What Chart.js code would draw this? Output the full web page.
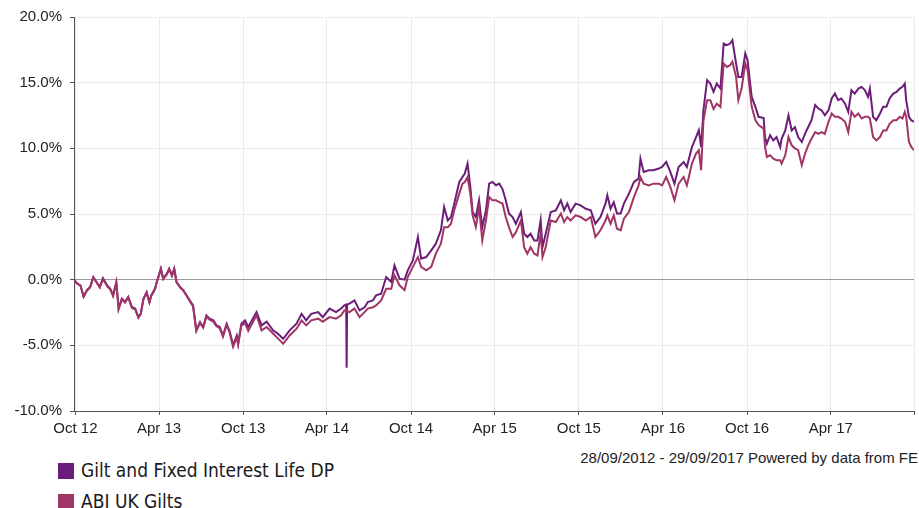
<!DOCTYPE html>
<html>
<head>
<meta charset="utf-8">
<title>Gilt and Fixed Interest Life DP vs ABI UK Gilts</title>
<script src="https://cdn.jsdelivr.net/npm/chart.js@4.4.1/dist/chart.umd.min.js"></script>
<style>
  html, body { margin: 0; padding: 0; background: #fff; }
  #wrap { position: relative; width: 919px; height: 508px; overflow: hidden;
          font-family: 'Liberation Sans', Arial, sans-serif; color: #222; }
  #chart { position: absolute; left: 0; top: 0; }
  .src { position: absolute; right: 1px; top: 449px; font-size: 15px; line-height: 18px; white-space: nowrap; }
  .sw { position: absolute; left: 58px; width: 16px; height: 16px; }
  .lt { position: absolute; left: 81px; font-family: 'DejaVu Sans Condensed', 'DejaVu Sans', sans-serif;
        font-stretch: condensed; font-size: 19px; line-height: 22px; white-space: nowrap; color: #1a1a1a; }
</style>
</head>
<body>
<div id="wrap">
  <canvas id="chart" width="919" height="440"></canvas>
  <div class="src">28/09/2012 - 29/09/2017 Powered by data from FE</div>
  <div class="sw" id="sw0" style="top:463px"></div>
  <div class="lt" id="lt0" style="top:459px"></div>
  <div class="sw" id="sw1" style="top:494px"></div>
  <div class="lt" id="lt1" style="top:490px"></div>
</div>
<script>
// Cumulative performance (%) from 28/09/2012 to 29/09/2017
const startDate = '2012-09-28';
const endDate = '2017-09-29';

const seriesNames = ['Gilt and Fixed Interest Life DP', 'ABI UK Gilts'];
const seriesColors = ['#6c1d7a', '#a03566'];

const dates = [
  '2012-09-28','2012-10-05','2012-10-12','2012-10-19','2012-10-26','2012-11-02','2012-11-09','2012-11-16','2012-11-23','2012-11-30',
  '2012-12-09','2012-12-16','2012-12-22','2012-12-29','2013-01-03','2013-01-10','2013-01-17','2013-01-24','2013-02-01','2013-02-08',
  '2013-02-15','2013-02-20','2013-02-26','2013-03-05','2013-03-11','2013-03-15','2013-03-23','2013-03-28','2013-04-05','2013-04-10',
  '2013-04-18','2013-04-23','2013-04-29','2013-05-04','2013-05-09','2013-05-17','2013-05-24','2013-05-31','2013-06-07','2013-06-14',
  '2013-06-21','2013-06-29','2013-07-06','2013-07-13','2013-07-20','2013-07-28','2013-08-04','2013-08-11','2013-08-18','2013-08-26',
  '2013-09-02','2013-09-09','2013-09-17','2013-09-20','2013-09-27','2013-10-05','2013-10-12','2013-10-30','2013-11-10','2013-11-21',
  '2013-12-05','2013-12-15','2013-12-27','2014-01-10','2014-01-25','2014-02-05','2014-02-15','2014-02-26','2014-03-13','2014-03-23',
  '2014-04-07','2014-04-21','2014-05-02','2014-05-09','2014-05-13','2014-05-14','2014-05-15','2014-05-20','2014-05-31','2014-06-11',
  '2014-06-22','2014-06-29','2014-07-10','2014-07-17','2014-07-28','2014-08-08','2014-08-19','2014-08-26','2014-09-06','2014-09-17',
  '2014-09-24','2014-10-05','2014-10-16','2014-10-23','2014-11-03','2014-11-14','2014-11-24','2014-12-05','2014-12-12','2014-12-20',
  '2014-12-27','2015-01-03','2015-01-14','2015-01-21','2015-01-26','2015-02-01','2015-02-07','2015-02-12','2015-02-19','2015-02-26',
  '2015-03-05','2015-03-13','2015-03-20','2015-03-27','2015-04-04','2015-04-11','2015-04-18','2015-04-25','2015-05-02','2015-05-10',
  '2015-05-17','2015-05-28','2015-06-04','2015-06-11','2015-06-18','2015-06-26','2015-07-03','2015-07-10','2015-07-14','2015-07-21',
  '2015-08-01','2015-08-12','2015-08-23','2015-08-30','2015-09-06','2015-09-13','2015-09-24','2015-10-05','2015-10-16','2015-10-27',
  '2015-11-06','2015-11-17','2015-11-28','2015-12-02','2015-12-09','2015-12-16','2015-12-23','2015-12-31','2016-01-07','2016-01-18',
  '2016-01-29','2016-02-08','2016-02-12','2016-02-19','2016-03-01','2016-03-11','2016-03-23','2016-03-30','2016-04-08','2016-04-17',
  '2016-04-26','2016-05-05','2016-05-16','2016-05-23','2016-06-03','2016-06-12','2016-06-18','2016-06-23','2016-06-28','2016-07-06',
  '2016-07-13','2016-07-20','2016-07-27','2016-08-04','2016-08-11','2016-08-18','2016-08-25','2016-08-30','2016-09-07','2016-09-12',
  '2016-09-19','2016-09-27','2016-10-02','2016-10-11','2016-10-19','2016-10-26','2016-11-06','2016-11-09','2016-11-13','2016-11-20',
  '2016-11-27','2016-12-04','2016-12-12','2016-12-15','2016-12-23','2016-12-30','2017-01-06','2017-01-13','2017-01-20','2017-01-28',
  '2017-02-04','2017-02-11','2017-02-18','2017-02-26','2017-03-05','2017-03-12','2017-03-19','2017-03-27','2017-04-03','2017-04-10',
  '2017-04-17','2017-04-24','2017-05-02','2017-05-09','2017-05-16','2017-05-23','2017-05-31','2017-06-07','2017-06-14','2017-06-21',
  '2017-06-25','2017-07-02','2017-07-09','2017-07-17','2017-07-24','2017-07-31','2017-08-07','2017-08-15','2017-08-22','2017-08-29',
  '2017-09-04','2017-09-09','2017-09-12','2017-09-18','2017-09-23','2017-09-29'
];

const giltFixedLifeDP = [
  0.00,-0.30,-0.43,-1.30,-0.80,-0.56,0.20,-0.18,-0.56,0.12,
  -0.43,-0.69,-1.20,-0.18,-2.20,-1.45,-1.70,-1.30,-2.10,-2.20,
  -2.85,-2.60,-1.45,-0.95,-1.70,-1.20,-0.69,-0.05,0.84,0.08,
  0.46,0.84,0.33,0.84,-0.18,-0.56,-0.81,-1.20,-1.58,-1.96,
  -3.86,-3.23,-3.60,-2.72,-2.97,-3.10,-3.48,-3.60,-4.25,-3.35,
  -3.98,-5.00,-4.25,-4.87,-3.35,-3.10,-3.60,-2.47,-3.48,-3.20,
  -3.86,-4.10,-4.50,-3.86,-3.35,-2.60,-3.10,-2.60,-2.47,-2.85,
  -2.20,-2.47,-2.20,-1.96,-1.90,-6.70,-1.90,-1.83,-1.58,-2.34,
  -2.10,-1.70,-1.58,-1.20,-1.07,0.20,-0.18,1.09,0.08,0.00,
  0.71,1.47,3.25,1.60,1.72,2.23,2.74,3.76,5.53,4.50,
  4.77,5.79,7.44,7.82,8.08,8.84,7.06,5.15,4.77,6.04,
  4.00,5.28,7.31,7.44,7.19,7.31,6.90,6.04,5.03,4.77,
  4.26,5.15,3.50,3.25,3.50,2.99,2.99,4.52,2.48,3.50,
  5.15,5.28,6.04,5.28,5.79,5.15,5.79,5.66,5.40,5.28,
  4.26,4.77,5.79,6.43,5.40,5.90,5.03,5.03,5.79,6.55,
  7.44,7.69,9.22,8.20,8.33,8.33,8.46,8.58,8.96,8.20,
  7.31,8.58,8.96,8.58,10.10,10.86,11.38,10.10,12.90,15.19,
  14.93,14.30,14.93,14.55,17.98,17.86,17.98,18.24,16.46,15.44,
  15.44,17.22,16.70,13.92,13.16,12.40,12.30,10.86,10.36,11.00,
  10.60,10.86,10.10,10.73,11.36,12.52,11.36,11.62,10.86,10.48,
  11.12,11.62,12.14,13.29,13.03,12.90,12.52,12.90,13.80,14.17,
  13.67,13.80,13.40,12.78,14.43,14.17,14.55,14.68,14.43,13.92,
  14.55,12.40,12.14,12.65,13.16,13.16,13.80,14.17,14.30,14.55,
  14.68,14.93,13.67,12.40,12.14,12.02
];

const abiUkGilts = [
  0.00,-0.30,-0.45,-1.30,-0.85,-0.60,0.15,-0.20,-0.60,0.05,
  -0.50,-0.75,-1.25,-0.25,-2.25,-1.50,-1.75,-1.35,-2.15,-2.25,
  -2.90,-2.65,-1.50,-1.00,-1.75,-1.25,-0.75,-0.10,0.80,0.05,
  0.40,0.80,0.30,0.80,-0.20,-0.60,-0.85,-1.25,-1.65,-2.05,
  -3.90,-3.30,-3.65,-2.80,-3.05,-3.20,-3.55,-3.70,-4.35,-3.45,
  -4.10,-5.10,-4.40,-4.95,-3.50,-3.30,-3.90,-2.72,-3.86,-3.60,
  -4.10,-4.45,-4.88,-4.25,-3.73,-3.10,-3.48,-3.10,-2.97,-3.20,
  -2.85,-2.97,-2.72,-2.34,-2.35,-2.35,-2.40,-2.47,-2.20,-2.85,
  -2.47,-2.20,-2.10,-1.96,-1.58,-0.69,-0.69,0.33,-0.43,-0.80,
  0.20,0.97,1.72,0.97,0.71,0.97,1.98,2.74,4.00,4.00,
  4.26,5.28,6.55,7.31,7.44,7.82,6.55,4.90,4.00,5.53,
  3.00,4.50,6.30,6.04,6.04,5.90,5.80,4.77,4.00,3.25,
  3.60,4.50,2.48,1.98,2.48,1.98,1.85,3.50,1.72,2.48,
  4.50,4.39,5.03,4.39,4.77,4.50,4.90,4.77,4.50,4.77,
  3.25,3.76,4.50,4.90,4.26,4.90,3.88,3.76,4.64,5.15,
  6.30,7.18,7.82,7.31,7.18,7.31,7.31,7.18,7.82,7.06,
  6.04,7.31,7.82,7.18,8.84,9.60,9.86,8.33,12.10,13.67,
  13.67,13.00,13.40,13.16,16.46,16.20,16.33,16.60,15.44,13.67,
  14.55,16.46,15.95,13.16,12.15,11.77,11.50,10.10,9.35,9.48,
  9.22,9.10,9.10,8.84,9.48,10.86,10.23,10.00,9.86,8.71,
  9.60,10.23,10.73,11.24,11.10,11.24,11.10,12.02,12.65,12.40,
  12.40,12.27,12.02,11.24,12.78,12.40,12.65,12.27,12.40,12.40,
  12.27,10.86,10.60,10.86,11.36,11.36,11.87,12.14,12.14,12.40,
  12.27,12.78,12.40,10.50,10.10,9.86
];

// x-axis ticks: every six months, plus an unlabelled tick closing the axis
const tickDates = ['2012-10-01','2013-04-01','2013-10-01','2014-04-01','2014-10-01',
                   '2015-04-01','2015-10-01','2016-04-01','2016-10-01','2017-04-01'];
const tickLabels = ['Oct 12','Apr 13','Oct 13','Apr 14','Oct 14',
                    'Apr 15','Oct 15','Apr 16','Oct 16','Apr 17'];
const yTickValues = [-10, -5, 0, 5, 10, 15, 20];

const DAY_MS = 86400000;
const t0 = Date.parse(startDate);
const dayOf = s => Math.round((Date.parse(s) - t0) / DAY_MS);
const lastDay = dayOf(endDate);

const toPoints = vals => vals.map((v, i) => ({ x: dayOf(dates[i]), y: v }));

// Legend entries
seriesNames.forEach((name, i) => {
  document.getElementById('sw' + i).style.background = seriesColors[i];
  document.getElementById('lt' + i).textContent = name;
});

const tickFont = { family: "'Liberation Sans', Arial, sans-serif", size: 15 };

new Chart(document.getElementById('chart'), {
  type: 'line',
  data: {
    datasets: [
      { label: seriesNames[0], data: toPoints(giltFixedLifeDP), borderColor: seriesColors[0],
        backgroundColor: seriesColors[0], borderWidth: 2, pointRadius: 0, tension: 0, order: 1 },
      { label: seriesNames[1], data: toPoints(abiUkGilts), borderColor: seriesColors[1],
        backgroundColor: seriesColors[1], borderWidth: 2, pointRadius: 0, tension: 0, order: 0 }
    ]
  },
  options: {
    responsive: false,
    animation: false,
    devicePixelRatio: 1,
    layout: { padding: { top: 17, right: 3, left: 0, bottom: 0 } },
    plugins: { legend: { display: false }, tooltip: { enabled: false } },
    scales: {
      x: {
        type: 'linear',
        min: 0,
        max: lastDay,
        afterBuildTicks: scale => {
          scale.ticks = tickDates.map(d => ({ value: dayOf(d) })).concat([{ value: lastDay }]);
        },
        afterFit: scale => { scale.height = 29; },
        ticks: {
          autoSkip: false, maxRotation: 0, minRotation: 0, padding: 5,
          color: '#222', font: tickFont,
          callback: (v, i) => (i < tickLabels.length ? tickLabels[i] : '')
        },
        grid: { color: '#ebebeb', tickColor: '#555', tickLength: 4, lineWidth: 1 },
        border: { display: true, color: '#555', width: 1 }
      },
      y: {
        min: -10,
        max: 20,
        afterBuildTicks: scale => { scale.ticks = yTickValues.map(v => ({ value: v })); },
        afterFit: scale => { scale.width = 74; },
        ticks: {
          padding: 8, color: '#222', font: tickFont,
          callback: v => v.toFixed(1) + '%'
        },
        grid: {
          color: ctx => (ctx.tick && ctx.tick.value === 0 ? '#9a9a9a' : '#ebebeb'),
          tickColor: '#555', tickLength: 4, lineWidth: 1
        },
        border: { display: true, color: '#555', width: 1 }
      }
    }
  }
});
</script>
</body>
</html>
